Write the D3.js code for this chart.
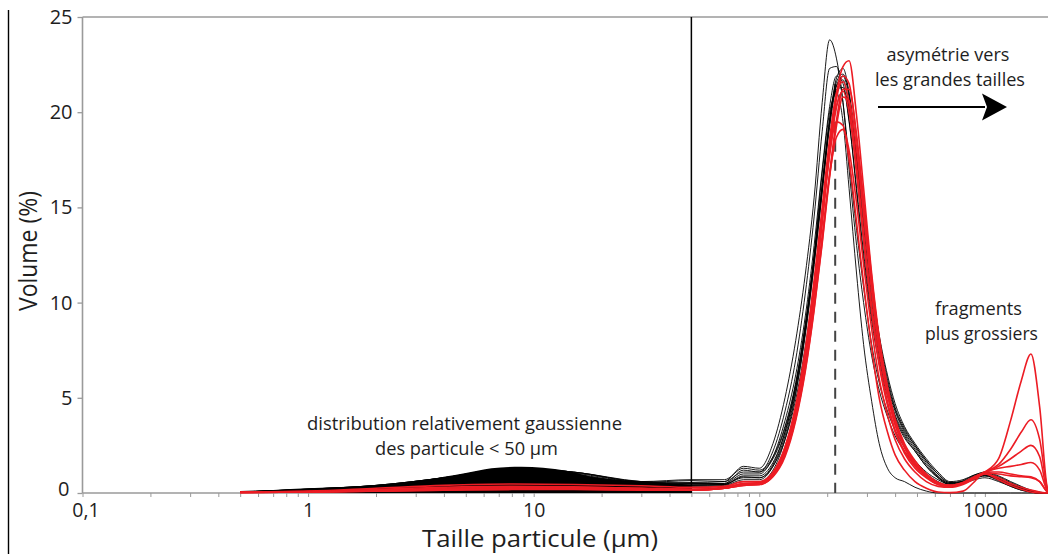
<!DOCTYPE html>
<html><head><meta charset="utf-8">
<script src="https://cdn.jsdelivr.net/npm/d3@7"></script>
<style>body{margin:0;background:#fff}svg{display:block}</style>
</head><body><svg id="c" width="1048" height="554"></svg>
<script>
// particle sizes (µm) shared by every curve
const sizes = [0.5,1,2,4,8,15,30,50,70,85,100,115,130,145,160,175,190,205,220,235,250,270,290,315,340,370,400,440,490,550,620,700,800,900,1000,1150,1300,1450,1600,1750,1900,2000];

// black samples (Volume %)
const black1 = [0.05,0.2,0.4,0.8,1.3,1.1,0.6,0.55,0.6, 1.4,1.3,2.6,5.0,8.0,11.5,15.5,20.5,23.8,22.8,20.5,17.0,13.0,10.0,7.2,5.4,4.0,3.0,2.2,1.5,1.0,0.6,0.4,0.5,0.7,0.8,0.6,0.35,0.15,0.05,0,0,0];
const black2 = [0.05,0.2,0.38,0.8,1.25,1.05,0.55,0.5,0.5, 1.2,1.1,2.2,4.3,7.0,10.5,14.5,19.0,22.3,22.4,20.5,17.5,13.8,10.8,7.8,5.8,4.3,3.3,2.4,1.7,1.1,0.7,0.45,0.5,0.75,0.9,0.7,0.4,0.2,0.05,0,0,0];
const black3 = [0.05,0.18,0.35,0.75,1.2,1.0,0.5,0.45,0.45, 0.9,0.9,1.6,3.2,5.5,8.5,12.0,15.8,19.5,21.8,22.3,21.0,17.5,13.8,10.0,7.5,5.6,4.3,3.2,2.4,1.6,0.9,0.5,0.55,0.8,0.95,0.75,0.45,0.25,0.1,0.02,0,0];
const black4 = [0.05,0.2,0.4,0.8,1.3,1.1,0.6,0.5,0.5, 1.0,1.0,1.9,3.8,6.2,9.3,13.0,17.0,20.3,21.9,21.5,19.6,15.8,12.3,9.0,6.8,5.1,3.9,2.9,2.2,1.4,0.8,0.45,0.6,0.9,1.0,0.8,0.5,0.3,0.12,0.03,0,0];
const black5 = [0.05,0.15,0.3,0.7,1.1,0.9,0.5,0.4,0.45, 0.8,0.8,1.5,3.2,5.6,8.7,12.4,16.2,19.6,21.4,21.7,20.2,16.8,13.2,9.6,7.2,5.4,4.1,3.1,2.3,1.5,0.85,0.5,0.65,0.95,1.05,0.85,0.55,0.3,0.12,0.03,0,0];
const black6 = [0.05,0.15,0.3,0.6,1.0,0.8,0.45,0.35,0.4, 0.7,0.7,1.4,3.0,5.3,8.3,12.0,15.8,19.2,21.2,21.3,19.5,16.0,12.6,9.3,7.0,5.3,4.0,3.0,2.2,1.4,0.8,0.45,0.55,0.85,0.95,0.75,0.5,0.25,0.1,0.02,0,0];
const black7 = [0.05,0.12,0.25,0.5,0.8,0.7,0.4,0.3,0.35, 0.6,0.6,1.2,2.8,5.2,8.5,12.5,16.8,20.0,21.0,19.5,16.0,11.5,7.8,4.8,2.6,1.3,0.8,0.6,0.3,0.1,0,0,0,0,0,0,0,0,0,0,0,0];
const black8 = [0.05,0.15,0.3,0.65,1.0,0.85,0.5,0.4,0.45, 0.85,0.8,1.4,2.8,4.9,7.7,11.0,14.6,18.0,20.3,21.1,20.2,17.3,14.0,10.4,7.8,5.8,4.4,3.3,2.5,1.7,1.0,0.55,0.6,0.85,0.95,0.7,0.4,0.2,0.05,0,0,0];
const black9 = [0.05,0.18,0.35,0.75,1.15,0.95,0.55,0.65,0.6, 1.1,1.1,1.8,3.4,5.7,8.8,12.3,16.0,19.4,21.4,21.9,20.8,17.8,14.5,11.0,8.3,6.2,4.7,3.5,2.6,1.8,1.1,0.6,0.7,0.95,1.1,0.9,0.6,0.35,0.15,0.05,0,0];
const black10 = [0.05,0.2,0.4,0.8,1.3,1.1,0.6,0.7,0.7, 1.3,1.2,1.9,3.5,5.8,8.9,12.4,16.2,19.6,21.6,22.0,21.0,18.0,14.6,11.0,8.2,6.0,4.5,3.4,2.5,1.7,1.0,0.55,0.6,0.8,0.9,0.65,0.35,0.15,0.05,0,0,0];

// red samples (Volume %)
const red1 = [0.05,0.1,0.25,0.4,0.47,0.45,0.38,0.3,0.35, 0.6,0.6,1.1,2.4,4.4,7.2,10.6,14.4,18.2,21.0,22.4,22.7,19.8,16.0,11.5,8.2,5.6,3.9,2.6,1.7,1.0,0.55,0.4,0.5,0.8,1.1,1.8,3.8,5.9,7.3,4.5,0.2,0];
const red2 = [0.04,0.08,0.15,0.25,0.3,0.3,0.25,0.2,0.3, 0.5,0.55,1.0,2.3,4.3,7.1,10.5,14.3,18.0,20.7,21.9,21.5,18.6,15.0,10.8,7.6,5.2,3.6,2.4,1.5,0.9,0.5,0.4,0.55,0.85,1.1,1.5,2.3,3.2,3.85,2.8,0.2,0];
const red3 = [0.04,0.08,0.18,0.3,0.35,0.32,0.25,0.2,0.25, 0.45,0.5,1.0,2.4,4.6,7.6,11.2,15.0,18.6,21.0,21.6,20.5,17.2,13.7,9.8,6.9,4.8,3.3,2.2,1.4,0.85,0.45,0.35,0.5,0.8,1.05,1.4,1.8,2.2,2.5,1.9,0.1,0];
const red4 = [0.03,0.06,0.12,0.2,0.25,0.25,0.2,0.18,0.25, 0.5,0.5,0.9,2.0,3.9,6.5,9.7,13.2,16.8,19.6,21.2,21.2,18.8,15.4,11.3,8.0,5.5,3.8,2.5,1.6,1.0,0.55,0.4,0.55,0.85,1.1,1.3,1.4,1.5,1.6,1.2,0.1,0];
const red5 = [0.03,0.06,0.12,0.2,0.22,0.22,0.2,0.15,0.25, 0.4,0.45,0.9,2.1,4.2,7.0,10.5,14.2,17.8,20.3,21.1,20.0,16.8,13.3,9.5,6.7,4.6,3.2,2.1,1.3,0.8,0.45,0.35,0.5,0.8,1.05,1.0,0.9,0.85,0.8,0.6,0.05,0];
const red6 = [0.03,0.05,0.1,0.15,0.18,0.18,0.15,0.15,0.25, 0.45,0.45,0.85,1.9,3.8,6.4,9.6,13.1,16.6,19.3,20.8,20.6,18.0,14.6,10.6,7.5,5.2,3.6,2.4,1.5,0.9,0.5,0.35,0.5,0.8,1.0,0.8,0.5,0.3,0.15,0.05,0,0];
const red7 = [0.03,0.05,0.1,0.18,0.22,0.2,0.18,0.15,0.25, 0.4,0.45,0.9,2.2,4.3,7.2,10.8,14.5,17.8,19.5,19.3,17.5,14.2,11.0,7.6,5.0,3.2,2.0,1.2,0.6,0.25,0.05,0.02,0.1,0.6,1.1,1.1,1.0,0.9,0.85,0.6,0.05,0];
const red8 = [0.03,0.05,0.1,0.15,0.2,0.2,0.18,0.15,0.25, 0.45,0.5,0.9,2.1,4.0,6.7,10.0,13.5,16.7,18.7,19.1,18.0,15.2,12.0,8.6,6.0,4.1,2.8,1.8,1.1,0.6,0.35,0.3,0.45,0.75,1.0,0.7,0.4,0.2,0.05,0,0,0];

const blackSeries = [black1,black2,black3,black4,black5,black6,black7,black8,black9,black10];
const redSeries = [red1,red2,red3,red4,red5,red6,red7,red8];

// dense black band of the fine fraction (< 50 µm)
const fillSizes = [0.5,0.7,1,1.5,2,3,4,5,6.5,8.8,11,14,18.4,22,27.6,35,41,50];
const fillTop =   [0.1,0.16,0.25,0.33,0.42,0.6,0.85,1.05,1.3,1.38,1.32,1.17,0.83,0.72,0.63,0.55,0.51,0.42];

const yTicks = [0,5,10,15,20,25];
const xTickLabels = ["0,1","1","10","100","1000"];
const sandLimit = 50;     // vertical solid line (µm)
const modeSize = 217;     // dashed line (µm)
const modeTop = 21.5;

const W = 1048, H = 554;
const svg = d3.select("#c");
const x = d3.scaleLog().domain([0.1, 2000]).range([82.5, 1052.8]);
const y = d3.scaleLinear().domain([0, 25]).range([493, 17]);
const font = "'Open Sans', 'Noto Sans', sans-serif";
const txt = "#1e1e1e", gray = "#9a9a9a";

svg.append("rect").attr("width", W).attr("height", H).attr("fill", "#fff");

// left frame line
svg.append("line").attr("x1", 8.5).attr("x2", 8.5).attr("y1", 10).attr("y2", H)
  .attr("stroke", "#000").attr("stroke-width", 1.4);

svg.append("defs").append("clipPath").attr("id", "clip")
  .append("rect").attr("x", 82.5).attr("y", 0).attr("width", W - 82.5).attr("height", 494);

// axes
const yAxis = d3.axisLeft(y).tickValues(yTicks).tickSize(5).tickPadding(5);
const gy = svg.append("g").attr("transform", "translate(82.5,0)").call(yAxis);
gy.select(".domain").remove();
gy.selectAll(".tick line").attr("stroke", gray).attr("stroke-width", 1.3);
gy.selectAll("text").attr("font-family", font).attr("font-size", 20).attr("fill", txt);
// the zero label sits a little up/left to clear "0,1"
gy.selectAll(".tick").filter(d => d === 0).select("text").attr("dx", -3).attr("dy", "0.12em");

const allXTicks = x.ticks(40).filter(d => d >= 0.1 && d <= 2000);
const isMajor = d => Math.abs(Math.log10(d) - Math.round(Math.log10(d))) < 1e-9;
const xAxis = d3.axisBottom(x).tickValues(allXTicks).tickSize(4).tickPadding(6)
  .tickFormat(d => isMajor(d) ? xTickLabels[Math.round(Math.log10(d)) + 1] : "");
const gx = svg.append("g").attr("transform", "translate(0,493)").call(xAxis);
gx.select(".domain").remove();
gx.selectAll(".tick line").attr("stroke", gray).attr("stroke-width", 1);
gx.selectAll("text").attr("font-family", font).attr("font-size", 19.5).attr("fill", txt);
gx.selectAll(".tick").filter(d => Math.abs(d - 0.1) < 1e-12).select("text").attr("dx", 3);

// frame lines (axis + top)
svg.append("line").attr("x1", 82.5).attr("x2", 82.5).attr("y1", y(25)).attr("y2", y(0))
  .attr("stroke", gray).attr("stroke-width", 1.6);
svg.append("line").attr("x1", 82.5).attr("x2", W).attr("y1", y(0)).attr("y2", y(0))
  .attr("stroke", gray).attr("stroke-width", 1.6);
svg.append("line").attr("x1", 82.5).attr("x2", W).attr("y1", y(25)).attr("y2", y(25))
  .attr("stroke", gray).attr("stroke-width", 1.6);

const plot = svg.append("g").attr("clip-path", "url(#clip)");

// dashed mode line
plot.append("line").attr("x1", x(modeSize)).attr("x2", x(modeSize)).attr("y1", y(modeTop)).attr("y2", y(0))
  .attr("stroke", "#444").attr("stroke-width", 2).attr("stroke-dasharray", "11,8");

// fine fraction band
const area = d3.area().x((d, i) => x(fillSizes[i])).y0(y(0)).y1(d => y(d)).curve(d3.curveMonotoneX);
plot.append("path").attr("d", area(fillTop)).attr("fill", "#000");

const line = d3.line().x((d, i) => x(sizes[i])).y(d => y(d)).curve(d3.curveMonotoneX);
plot.selectAll("path.blk").data(blackSeries).join("path").attr("class", "blk")
  .attr("d", line).attr("fill", "none").attr("stroke", "#000").attr("stroke-width", 0.9);

// sand limit line
plot.append("line").attr("x1", x(sandLimit)).attr("x2", x(sandLimit)).attr("y1", y(25)).attr("y2", y(0))
  .attr("stroke", "#000").attr("stroke-width", 1.5);

plot.selectAll("path.red").data(redSeries).join("path").attr("class", "red")
  .attr("d", line).attr("fill", "none").attr("stroke", "#ec1c24").attr("stroke-width", 1.6);

// titles
svg.append("text").attr("x", 540).attr("y", 547).attr("text-anchor", "middle")
  .attr("font-family", font).attr("font-size", 23).attr("fill", txt)
  .attr("textLength", 236).attr("lengthAdjust", "spacingAndGlyphs")
  .text("Taille particule (µm)");
svg.append("text").attr("transform", "translate(37,251) rotate(-90)").attr("text-anchor", "middle")
  .attr("font-family", font).attr("font-size", 25).attr("fill", txt)
  .attr("textLength", 120).attr("lengthAdjust", "spacingAndGlyphs")
  .text("Volume (%)");

// annotations
const notes = [
  {t: "distribution relativement gaussienne", cx: 464.5, by: 430, w: 315},
  {t: "des particule < 50 µm", cx: 466.5, by: 455, w: 183},
  {t: "asymétrie vers", cx: 948, by: 61, w: 123},
  {t: "les grandes tailles", cx: 950, by: 86, w: 150},
  {t: "fragments", cx: 978.5, by: 315, w: 87},
  {t: "plus grossiers", cx: 981.5, by: 340, w: 113}
];
svg.selectAll("text.note").data(notes).join("text").attr("class", "note")
  .attr("x", d => d.cx).attr("y", d => d.by).attr("text-anchor", "middle")
  .attr("font-family", font).attr("font-size", 18).attr("fill", txt)
  .attr("textLength", d => d.w).attr("lengthAdjust", "spacingAndGlyphs")
  .text(d => d.t);

// arrow
svg.append("line").attr("x1", 878).attr("x2", 985).attr("y1", 107).attr("y2", 107)
  .attr("stroke", "#000").attr("stroke-width", 2);
svg.append("path").attr("d", "M1007,107 L982,93.5 L987,107 L982,120.5 Z").attr("fill", "#000");
</script></body></html>
